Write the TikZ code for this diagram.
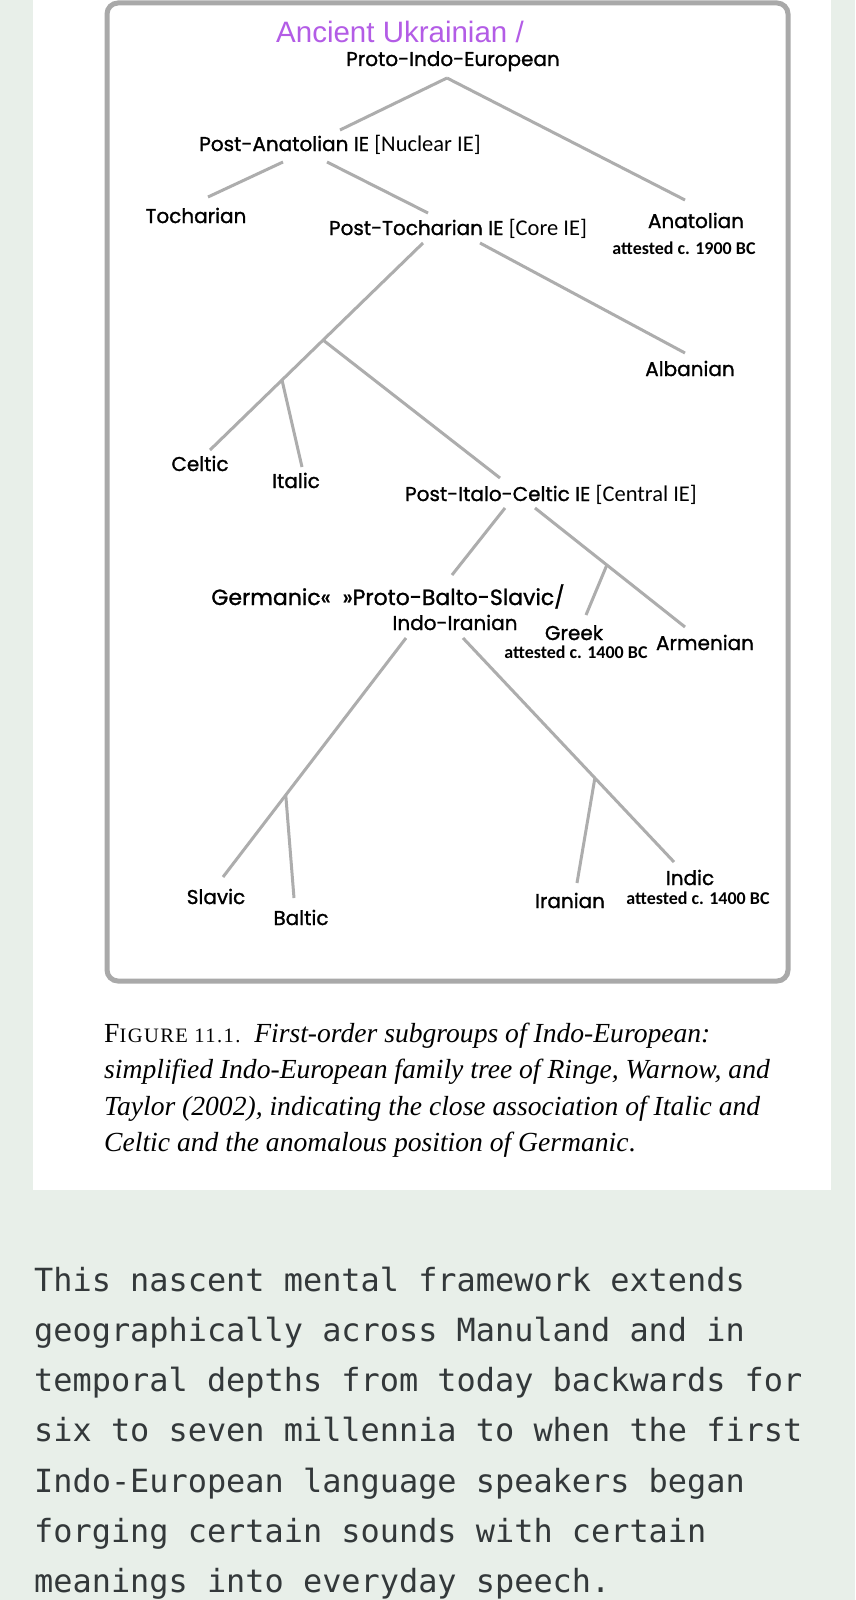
\documentclass[tikz,border=0pt]{standalone}
\usepackage{fontspec}
\setmainfont{Liberation Serif}
\newfontfamily\treefont[FakeBold=1.2]{Poppins}
\newfontfamily\notefont{Carlito}
\newfontfamily\ancfont{Liberation Sans}
\newfontfamily\figfont[LetterSpace=7]{Liberation Serif}
\newfontfamily\bodyfont{DejaVu Sans Mono}
\usepackage{tikz}
\usetikzlibrary{calc}
\usepackage{xcolor}

\definecolor{pagebg}{HTML}{E8EFE9}
\definecolor{framegray}{HTML}{A9A9A9}
\definecolor{linegray}{HTML}{ADADAD}
\definecolor{ancviolet}{HTML}{B35CE6}
\definecolor{bodyink}{HTML}{33383A}

\newcommand{\brk}[1]{{\notefont\fontsize{22.5}{24}\selectfont #1}}

\begin{document}
\begin{tikzpicture}[x=1pt, y=-1pt,
  lbl/.style      = {anchor=base, inner sep=0pt, outer sep=0pt, text height=15pt, text depth=4pt,
                     font=\treefont\fontsize{20}{24}\selectfont},
  note/.style     = {anchor=base, inner sep=0pt, font=\notefont\bfseries\fontsize{18}{20}\selectfont},
  branch/.style   = {draw=linegray, line width=3pt},
  capline/.style  = {anchor=base west, inner sep=0pt, font=\fontsize{27.6}{36}\selectfont\itshape},
  bodyline/.style = {anchor=base west, inner sep=0pt, text=bodyink,
                     font=\bodyfont\fontsize{31.9}{50}\selectfont},
]
\useasboundingbox (0,0) rectangle (855,1600);
% ── Page, panel and frame ────────────────────────────────────────────────────
\fill[pagebg] (0,0) rectangle (855,1600);
\fill[white] (33,0) rectangle (831,1190);
\draw[framegray, line width=5pt, rounded corners=11pt] (107,3) rectangle (788,981);

% ── Labels ───────────────────────────────────────────────────────────────────
\node[anchor=base, inner sep=0pt, text=ancviolet, font=\ancfont\fontsize{29.5}{32}\selectfont]
     (anc) at (400,43) {Ancient Ukrainian /};
\node[lbl] (pie)       at (453,66)  {Proto-Indo-European};
\node[lbl] (postana)   at (340,151) {Post-Anatolian IE \brk{[Nuclear IE]}};
\node[lbl] (toch)      at (196,223) {Tocharian};
\node[lbl] (posttoch)  at (458,235) {Post-Tocharian IE \brk{[Core IE]}};
\node[lbl] (anat)      at (696,228) {Anatolian};
\node[note] (anatdate) at (684,254) {attested c. 1900 BC};
\node[lbl] (alb)       at (690,376) {Albanian};
\node[lbl] (celtic)    at (200,471) {Celtic};
\node[lbl] (italic)    at (296,488) {Italic};
\node[lbl] (postitalo) at (551,501) {Post-Italo-Celtic IE \brk{[Central IE]}};
\node[lbl, font=\treefont\fontsize{22}{24}\selectfont]
           (pbs)       at (388,605) {Germanic«\ \ »Proto-Balto-Slavic/};
\node[lbl] (indoir)    at (455,630) {Indo-Iranian};
\node[lbl] (greek)     at (574,640) {Greek};
\node[note] (greekdate) at (576,658) {attested c. 1400 BC};
\node[lbl] (arm)       at (705,650) {Armenian};
\node[lbl] (slavic)    at (216,904) {Slavic};
\node[lbl] (baltic)    at (301,925) {Baltic};
\node[lbl] (iranian)   at (570,908) {Iranian};
\node[lbl] (indic)     at (690,885) {Indic};
\node[note] (indicdate) at (698,904) {attested c. 1400 BC};

% ── Branch points and tips ───────────────────────────────────────────────────
\coordinate (apex)    at ($(pie.south)+(-6,8)$);
\coordinate (na-l)    at ($(postana.south)+(-57,7)$);
\coordinate (na-r)    at ($(postana.south)+(-13,7)$);
\coordinate (co-l)    at ($(posttoch.south)+(-35,4)$);
\coordinate (co-r)    at ($(posttoch.south)+(22,4)$);
\coordinate (ce-l)    at ($(postitalo.south)+(-46,3)$);
\coordinate (ce-r)    at ($(postitalo.south)+(-16,3)$);
\coordinate (ii-l)    at ($(indoir.south)+(-49,4)$);
\coordinate (ii-r)    at ($(indoir.south)+(8,4)$);

\coordinate (t-postana)   at ($(postana.north)+(0,-6)$);
\coordinate (t-anat)      at ($(anat.north)+(-11,-13)$);
\coordinate (t-toch)      at ($(toch.north)+(12,-11)$);
\coordinate (t-posttoch)  at ($(posttoch.north)+(-30,-7)$);
\coordinate (t-celtic)    at ($(celtic.north)+(10,-6)$);
\coordinate (t-alb)       at ($(alb.north)+(-5,-8)$);
\coordinate (t-postitalo) at ($(postitalo.north)+(-51,-8)$);
\coordinate (t-italic)    at ($(italic.north)+(6,-6)$);
\coordinate (t-pbs)       at ($(pbs.north)+(64,-15)$);
\coordinate (t-arm)       at ($(arm.north)+(-20,-8)$);
\coordinate (t-greek)     at ($(greek.north)+(12,-10)$);
\coordinate (t-slavic)    at ($(slavic.north)+(7,-12)$);
\coordinate (t-baltic)    at ($(baltic.north)+(-7,-12)$);
\coordinate (t-indic)     at ($(indic.north)+(-16,-8)$);
\coordinate (t-iranian)   at ($(iranian.north)+(7,-10)$);

\coordinate (italoceltic) at ($(co-l)!0.469!(t-celtic)$);
\coordinate (italceltic)  at ($(co-l)!0.662!(t-celtic)$);
\coordinate (grarm)       at ($(ce-r)!0.479!(t-arm)$);
\coordinate (baltoslav)   at ($(ii-l)!0.657!(t-slavic)$);
\coordinate (indoiran)    at ($(ii-r)!0.625!(t-indic)$);

% ── Tree lines ───────────────────────────────────────────────────────────────
\foreach \a/\b in {apex/t-postana, apex/t-anat, na-l/t-toch, na-r/t-posttoch,
                   co-l/t-celtic, co-r/t-alb, italoceltic/t-postitalo, italceltic/t-italic,
                   ce-l/t-pbs, ce-r/t-arm, grarm/t-greek,
                   ii-l/t-slavic, baltoslav/t-baltic, ii-r/t-indic, indoiran/t-iranian}
  \draw[branch] (\a) -- (\b);

% ── Caption ──────────────────────────────────────────────────────────────────
\foreach \txt [count=\i from 0] in {
    {{\figfont\upshape F{\fontsize{20.5}{24}\selectfont IGURE 11.1.}}\ \ First-order subgroups of Indo-European:},
    {simplified Indo-European family tree of Ringe, Warnow, and},
    {Taylor (2002), indicating the close association of Italic and},
    {Celtic and the anomalous position of Germanic{\upshape .}}}
  \node[capline] (cap\i) at (104,1042+\i*36.5) {\txt};

% ── Body text ────────────────────────────────────────────────────────────────
\foreach \ln [count=\i from 0] in {
    This nascent mental framework extends,
    geographically across Manuland and in,
    temporal depths from today backwards for,
    six to seven millennia to when the first,
    Indo-European language speakers began,
    forging certain sounds with certain,
    meanings into everyday speech.}
  \node[bodyline] (body\i) at (34,1291+\i*50.3) {\ln};
\end{tikzpicture}
\end{document}
